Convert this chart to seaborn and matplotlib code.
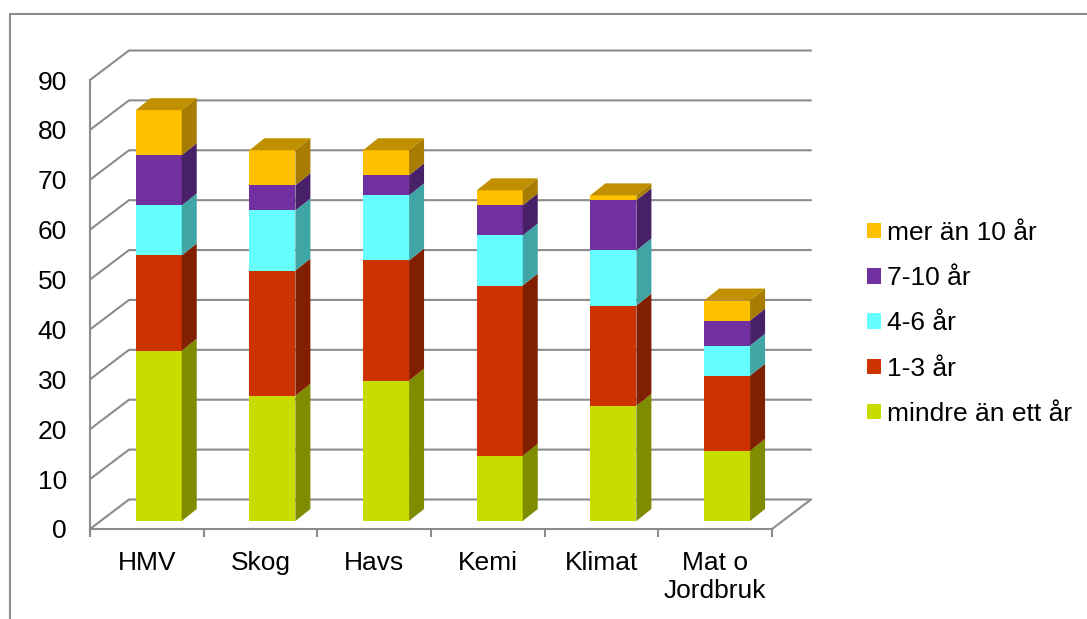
import matplotlib
matplotlib.use("Agg")
import matplotlib.pyplot as plt
from matplotlib.lines import Line2D
import numpy as np
import seaborn as sns

categories = ["HMV", "Skog", "Havs", "Kemi", "Klimat", "Mat o\nJordbruk"]
under_1 = [34, 25, 28, 13, 23, 14]
years_1_3 = [19, 25, 24, 34, 20, 15]
years_4_6 = [10, 12, 13, 10, 11, 6]
years_7_10 = [10, 5, 4, 6, 10, 5]
over_10 = [9, 7, 5, 3, 1, 4]

series_names = ["mindre än ett år", "1-3 år", "4-6 år", "7-10 år", "mer än 10 år"]
series_values = [under_1, years_1_3, years_4_6, years_7_10, over_10]
front_colors = ["#C8DC00", "#CC3300", "#66FFFF", "#7030A0", "#FFC000"]
side_colors = ["#808C00", "#802000", "#40A5A5", "#482068", "#A87C00"]
top_color = "#C09000"
grid_color = "#8C8C8C"

sns.set_style("white")
plt.rcParams["font.family"] = ["Liberation Sans", "DejaVu Sans"]

W, H = 1087, 619
fig = plt.figure(figsize=(W / 100, H / 100), dpi=100)
ax = fig.add_axes([90 / W, (H - 529) / H, 682 / W, 449 / H])

# pseudo 3d depth, all in data units
px_x = 682 / 6
px_y = 449 / 90
wall_dx, wall_dy = 39 / px_x, 29.5 / px_y
bar_dx, bar_dy = 11.9 / px_x, 8 / px_y
side_dx, side_dy = 15 / px_x, 12 / px_y
bar_scale = 5.01 / px_y  # bars stand a bit nearer than the front axis

bottom = np.zeros(len(categories))
for name, values, color in zip(series_names, series_values, front_colors):
    sns.barplot(x=categories, y=values, bottom=bottom, color=color, saturation=1,
                width=46 / px_x, label=name, linewidth=0, zorder=3, ax=ax)
    bottom = bottom + np.array(values)

ax.set_xlim(-0.5, 5.5)
ax.set_ylim(0, 90)

# move the front faces into the box and add the side and top faces
n = len(categories)
for i, bar in enumerate(ax.patches):
    bar.set_x(bar.get_x() + bar_dx)
    bar.set_y(bar.get_y() * bar_scale + bar_dy)
    bar.set_height(bar.get_height() * bar_scale)
    bar.set_clip_on(False)
    s = i // n
    x0 = bar.get_x()
    x1 = x0 + bar.get_width()
    y0 = bar.get_y()
    y1 = y0 + bar.get_height()
    ax.fill([x1, x1 + side_dx, x1 + side_dx, x1],
            [y0, y0 + side_dy, y1 + side_dy, y1],
            color=side_colors[s], lw=0, zorder=3, clip_on=False)
    if s == len(series_names) - 1:
        ax.fill([x0, x0 + side_dx, x1 + side_dx, x1],
                [y1, y1 + side_dy, y1 + side_dy, y1],
                color=top_color, lw=0, zorder=3, clip_on=False)

# back wall grid lines and floor
yticks = np.arange(0, 100, 10)
for v in yticks:
    ax.plot([-0.5, -0.5 + wall_dx, 5.5 + wall_dx], [v, v + wall_dy, v + wall_dy],
            color=grid_color, lw=1.5, zorder=1, clip_on=False)
ax.plot([5.5, 5.5 + wall_dx], [0, wall_dy], color=grid_color, lw=1.5, zorder=1, clip_on=False)

ax.set_yticks(yticks)
ax.set_xticks(np.arange(-0.5, 6, 1), minor=True)
ax.tick_params(axis="y", length=5, width=1.5, color=grid_color, pad=11.5, labelsize=19, labelcolor="black")
ax.tick_params(axis="x", which="major", length=0, pad=16, labelsize=19, labelcolor="black")
ax.tick_params(axis="x", which="minor", length=6, width=1.5, color=grid_color, bottom=True)
for label in ax.get_xticklabels():
    label.set_linespacing(1.22)

sns.despine(ax=ax)
for side in ["left", "bottom"]:
    ax.spines[side].set_color(grid_color)
    ax.spines[side].set_linewidth(1.5)

handles, labels = ax.get_legend_handles_labels()
ax.legend(handles[::-1], labels[::-1], loc="center left", frameon=False, fontsize=19, labelcolor="black",
          bbox_to_anchor=(867 / W, (H - 323.5) / H), bbox_transform=fig.transFigure,
          handlelength=0.53, handleheight=0.53, handletextpad=0.23, labelspacing=0.805,
          borderpad=0, borderaxespad=0)

# outer frame, cut off by the picture edge
fig.add_artist(Line2D([10 / W, 10 / W, 1], [0, (H - 13.5) / H, (H - 13.5) / H],
                      color=grid_color, lw=1.5))

fig.savefig("out.png", dpi=100)
